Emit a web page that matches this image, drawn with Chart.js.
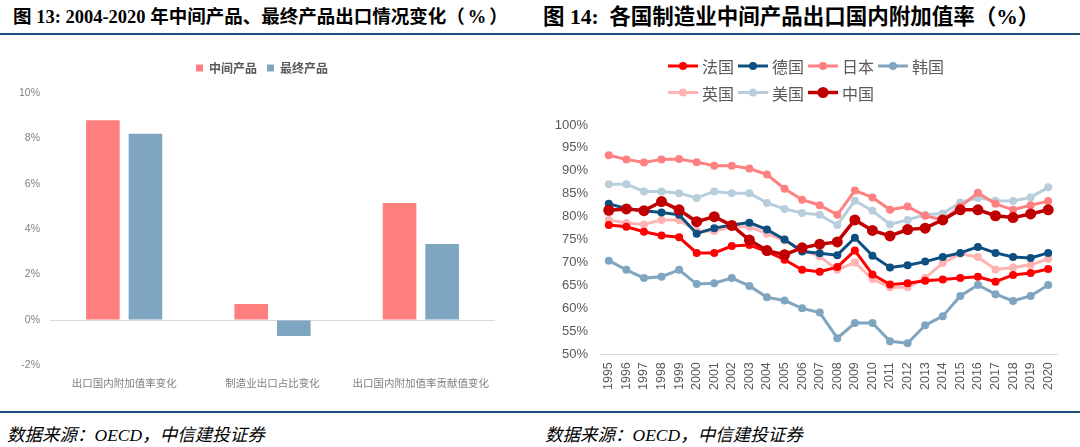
<!DOCTYPE html>
<html>
<head>
<meta charset="utf-8">
<script src="https://cdn.jsdelivr.net/npm/chart.js@4.4.1/dist/chart.umd.min.js"></script>
<style>
  body { margin: 0; width: 1080px; height: 447px; background: #fff; position: relative; overflow: hidden; }
  .title { position: absolute; top: 5px; line-height: 24px; font-family: "Liberation Serif", "Noto Sans CJK SC"; font-weight: bold; color: #000; white-space: nowrap; }
  .rule { position: absolute; left: 0; width: 1080px; height: 2px; background: #1f4e79; }
  .src { position: absolute; top: 421px; line-height: 22px; font: italic 17.5px "Liberation Serif", "Noto Sans CJK SC"; color: #000; white-space: nowrap; }
  canvas { position: absolute; top: 40px; }
</style>
</head>
<body>
<div class="title" style="left:13px;font-size:18.5px">图 13: 2004-2020 年中间产品、最终产品出口情况变化<span style="letter-spacing:3px">（%</span>）</div>
<div class="title" style="left:543px;font-size:21.5px">图 14:&nbsp; 各国制造业中间产品出口国内附加值率（%）</div>
<div class="rule" style="top:33px"></div>
<div class="rule" style="top:411px"></div>
<div class="src" style="left:7px">数据来源：OECD，中信建投证券</div>
<div class="src" style="left:545px">数据来源：OECD，中信建投证券</div>

<canvas id="barChart" width="540" height="360" style="left:0"></canvas>
<canvas id="lineChart" width="540" height="360" style="left:540px"></canvas>

<script>
// 图13
const barCategories = ['出口国内附加值率变化', '制造业出口占比变化', '出口国内附加值率贡献值变化'];
const intermediate = [8.8, 0.7, 5.15];
const finalGoods = [8.2, -0.7, 3.35];

// 图14
const years = ['1995', '1996', '1997', '1998', '1999', '2000', '2001', '2002', '2003', '2004', '2005', '2006', '2007',
    '2008', '2009', '2010', '2011', '2012', '2013', '2014', '2015', '2016', '2017', '2018', '2019', '2020'];
const france = [78.2, 77.8, 76.7, 75.9, 75.5, 72.1, 72.1, 73.6, 73.8, 72.4, 70.6, 68.4, 68.0, 69.0, 72.6, 67.4, 65.2, 65.5, 66.0, 66.3, 66.6, 66.9, 65.8, 67.3, 67.7, 68.6];
const germany = [82.8, 81.8, 81.3, 80.9, 80.4, 76.3, 77.5, 78.2, 78.7, 77.2, 75.0, 72.4, 72.0, 71.6, 75.4, 71.5, 68.9, 69.4, 70.2, 71.2, 72.1, 73.4, 72.1, 71.2, 71.0, 72.1];
const japan = [93.4, 92.5, 91.8, 92.5, 92.6, 91.9, 91.1, 91.1, 90.5, 89.2, 86.1, 83.7, 82.5, 80.4, 85.7, 84.2, 81.5, 82.2, 80.2, 79.3, 82.2, 85.2, 82.8, 81.5, 82.5, 83.4];
const korea = [70.4, 68.4, 66.6, 66.9, 68.4, 65.3, 65.5, 66.6, 64.9, 62.4, 61.7, 60.0, 59.1, 53.5, 56.8, 56.8, 52.8, 52.4, 56.3, 58.3, 62.7, 65.1, 63.1, 61.6, 62.7, 65.1];
const uk = [79.3, 78.6, 78.3, 79.3, 79.3, 76.9, 76.9, 77.8, 77.8, 76.3, 74.8, 72.8, 71.3, 68.4, 70.0, 66.4, 64.6, 64.6, 66.6, 69.9, 71.9, 71.2, 68.5, 68.9, 69.5, 70.8];
const usa = [87.1, 87.1, 85.5, 85.5, 85.1, 84.1, 85.5, 85.1, 85.1, 83.0, 81.7, 80.8, 80.4, 78.2, 83.5, 81.3, 78.3, 79.3, 80.4, 80.7, 83.1, 84.1, 83.5, 83.4, 84.2, 86.4];
const china = [81.4, 81.7, 81.3, 83.3, 81.5, 78.9, 80.0, 78.1, 74.9, 72.6, 71.7, 73.2, 74.0, 74.5, 79.3, 77.0, 75.8, 77.2, 77.5, 79.3, 81.5, 81.5, 80.2, 79.8, 80.6, 81.5];

const sansFont = '"Noto Sans CJK SC", "Liberation Sans", sans-serif';
const numFont = '"Liberation Sans", Arial, sans-serif';

// push the plot area down a bit below the legend
const legendGap = {
    id: 'legendGap',
    beforeInit(chart) {
        const fit = chart.legend.fit;
        chart.legend.fit = function () {
            fit.call(this);
            this.height += 9;
        };
    }
};

new Chart(document.getElementById('barChart'), {
    type: 'bar',
    data: {
        labels: barCategories,
        datasets: [{
            label: '中间产品',
            data: intermediate,
            backgroundColor: '#ff7f7f',
            barPercentage: 0.79,
            categoryPercentage: 0.574
        }, {
            label: '最终产品',
            data: finalGoods,
            backgroundColor: '#7fa6c0',
            barPercentage: 0.79,
            categoryPercentage: 0.574
        }]
    },
    plugins: [legendGap],
    options: {
        responsive: false,
        animation: false,
        layout: { padding: { top: 12, left: 0, right: 16, bottom: 0 } },
        plugins: {
            legend: {
                labels: {
                    boxWidth: 7,
                    boxHeight: 7,
                    color: '#595959',
                    font: { family: sansFont, size: 12, weight: 'bold' }
                }
            },
            tooltip: { enabled: false }
        },
        scales: {
            y: {
                min: -2,
                max: 10,
                ticks: {
                    stepSize: 2,
                    padding: 10,
                    color: '#7f7f7f',
                    font: { family: numFont, size: 10.5 },
                    callback: v => v + '%'
                },
                grid: {
                    drawTicks: false,
                    color: c => c.tick.value === 0 ? '#d9d9d9' : 'rgba(0,0,0,0)'
                },
                border: { display: false },
                afterFit: s => { s.width = 50; }
            },
            // empty right-hand margin so the legend centres as in the original
            side: {
                position: 'right',
                ticks: { display: false },
                grid: { display: false, drawTicks: false },
                border: { display: false },
                afterFit: s => { s.width = 29; }
            },
            x: {
                ticks: {
                    padding: 11,
                    color: '#7f7f7f',
                    font: { family: sansFont, size: 10.5 }
                },
                grid: { display: false, drawTicks: false },
                border: { display: false }
            }
        }
    }
});

// legend: line with dot, two rows starting at the same x
const lineLegend = {
    id: 'lineLegend',
    afterDraw(chart) {
        const ctx = chart.ctx;
        const ds = chart.data.datasets;
        const rows = [[0, 1, 2, 3], [4, 5, 6]];
        ctx.save();
        ctx.font = '16px ' + sansFont;
        const widths = ds.map(d => 34 + ctx.measureText(d.label).width + 4);
        const rowWidth = rows[0].reduce((s, i) => s + widths[i], 0);
        const x0 = chart.width / 2 - 2 - rowWidth / 2;
        rows.forEach((row, r) => {
            let x = x0;
            const y = 26 + r * 26.5;
            row.forEach(i => {
                const d = ds[i];
                ctx.strokeStyle = d.borderColor;
                ctx.lineWidth = d.borderWidth;
                ctx.beginPath();
                ctx.moveTo(x, y);
                ctx.lineTo(x + 30, y);
                ctx.stroke();
                ctx.fillStyle = d.borderColor;
                ctx.beginPath();
                ctx.arc(x + 15, y, d.pointRadius, 0, Math.PI * 2);
                ctx.fill();
                ctx.fillStyle = '#595959';
                ctx.textBaseline = 'middle';
                ctx.fillText(d.label, x + 34, y + 1);
                x += widths[i];
            });
        });
        ctx.restore();
    }
};

function series(label, data, color, order, big) {
    return {
        label: label,
        data: data,
        borderColor: color,
        backgroundColor: color,
        pointBackgroundColor: color,
        borderWidth: big ? 3.5 : 3,
        pointRadius: big ? 5.5 : 4,
        pointBorderWidth: 0,
        order: order
    };
}

new Chart(document.getElementById('lineChart'), {
    type: 'line',
    data: {
        labels: years,
        datasets: [
            series('法国', france, '#ff0000', 1),
            series('德国', germany, '#0d4f80', 1),
            series('日本', japan, '#ff8080', 1),
            series('韩国', korea, '#7fa5c0', 1),
            series('英国', uk, '#ffb3b3', 1),
            series('美国', usa, '#b8cedc', 1),
            series('中国', china, '#c00000', 0, true)
        ]
    },
    plugins: [lineLegend],
    options: {
        responsive: false,
        animation: false,
        layout: { padding: { top: 85, left: 0, right: 23, bottom: 2 } },
        plugins: {
            legend: { display: false },
            tooltip: { enabled: false }
        },
        scales: {
            y: {
                min: 50,
                max: 100,
                ticks: {
                    stepSize: 5,
                    padding: 12,
                    color: '#595959',
                    font: { family: numFont, size: 13 },
                    callback: v => v + '%'
                },
                grid: { display: false, drawTicks: false },
                border: { display: false },
                afterFit: s => { s.width = 60; }
            },
            x: {
                offset: true,
                ticks: {
                    autoSkip: false,
                    padding: 8,
                    minRotation: 90,
                    maxRotation: 90,
                    color: '#595959',
                    font: { family: numFont, size: 12.5 }
                },
                grid: { display: false, drawTicks: false },
                border: { display: true, color: '#d9d9d9', width: 1 }
            }
        }
    }
});
</script>
</body>
</html>
